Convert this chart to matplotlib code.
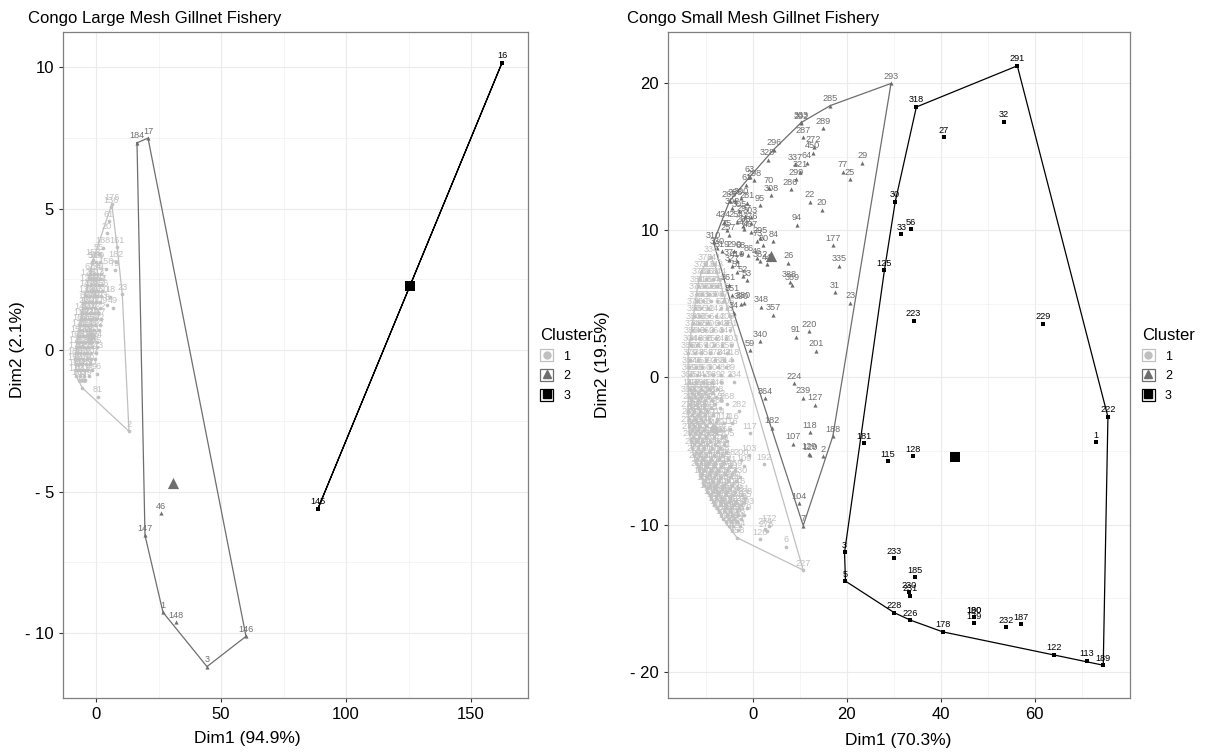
import matplotlib
matplotlib.use('Agg')
import matplotlib.pyplot as plt
from matplotlib.lines import Line2D
from matplotlib.patches import Rectangle
from matplotlib.legend_handler import HandlerTuple

plt.rcParams['font.family'] = ['Liberation Sans', 'DejaVu Sans']

# ---------------- LEFT PANEL: Congo Large Mesh Gillnet Fishery ----------------
L1_x = [6.3, 6.0, 5.0, 4.3, 8.5, 2.9, 1.0, -1.1, 8.0, 7.6, 3.9, 10.5, 5.6, 4.5, 6.8, 0.3, 0.7, 13.2, -5.5,
        -2.5, -1.0, 0.5, 2.0,
        -3.5, -2.0, -0.5, 1.0, 2.5,
        -4.0, -2.5, -1.0, 0.5, 2.0,
        -5.0, -3.5, -2.0, -0.5, 1.5,
        -6.0, -4.5, -3.0, -1.5, 0.0, 2.0,
        -7.0, -5.5, -4.0, -2.5, -1.0, 1.0,
        -7.5, -6.0, -4.5, -3.0, -1.5, 0.5,
        -8.0, -6.5, -5.0, -3.5, -2.0, 0.0,
        -8.2, -7.0, -5.5, -4.0, -2.5,
        -8.0, -6.5, -5.0, -3.0,
        -1.5, 0.0, 1.5,
        -3.0, -1.5, 0.0, 1.5,
        -3.8, -2.2, -0.7, 0.8, 2.2,
        -4.5, -3.0, -1.5, 0.0, 1.6,
        -5.5, -4.0, -2.5, -1.0, 0.7,
        -6.5, -5.0, -3.5, -2.0, -0.3, 1.5,
        -7.3, -5.8, -4.3, -2.8, -1.2,
        -7.8, -6.3, -4.8, -3.3, -1.7, 0.3,
        -8.3, -6.8, -5.3, -3.8, -2.2, -0.5,
        -7.8, -6.3, -4.8, -3.5, -1.8,
        -7.0, -5.8, -4.5]
L1_y = [5.16, 5.05, 4.55, 4.13, 3.63, 3.62, 3.4, 3.19, 3.13, 2.83, 2.88, 1.98, 1.89, 1.6, 1.5, -0.83, -1.65, -2.87, -1.33,
        2.7, 2.7, 2.7, 2.7,
        2.3, 2.3, 2.3, 2.3, 2.3,
        1.9, 1.9, 1.9, 1.9, 1.9,
        1.5, 1.5, 1.5, 1.5, 1.5,
        1.1, 1.1, 1.1, 1.1, 1.1, 1.1,
        0.7, 0.7, 0.7, 0.7, 0.7, 0.7,
        0.3, 0.3, 0.3, 0.3, 0.3, 0.3,
        -0.1, -0.1, -0.1, -0.1, -0.1, -0.1,
        -0.5, -0.5, -0.5, -0.5, -0.5,
        -0.9, -0.9, -0.9, -0.9,
        3.1, 3.1, 3.1,
        2.5, 2.5, 2.5, 2.5,
        2.1, 2.1, 2.1, 2.1, 2.1,
        1.7, 1.7, 1.7, 1.7, 1.7,
        1.3, 1.3, 1.3, 1.3, 1.3,
        0.9, 0.9, 0.9, 0.9, 0.9, 0.9,
        0.5, 0.5, 0.5, 0.5, 0.5,
        0.1, 0.1, 0.1, 0.1, 0.1, 0.1,
        -0.3, -0.3, -0.3, -0.3, -0.3, -0.3,
        -0.7, -0.7, -0.7, -0.7, -0.7,
        -1.05, -1.05, -1.05]
L1_lab = [176, 136, 61, 20, 161, 188, 55, 153, 182, 79, 158, 23, 18, 8, 49, 96, 81, 2, 21,
          62, 73, 95, 41,
          120, 35, 88, 104, 57,
          139, 12, 66, 97, 150,
          27, 130, 44, 71, 109,
          115, 52, 83, 140, 9, 67,
          178, 31, 124, 59, 11, 92,
          163, 48, 101, 26, 135, 74,
          170, 39, 112, 85, 5, 143,
          155, 64, 127, 19, 90,
          172, 43, 118, 33,
          58, 174, 29,
          126, 36, 107, 13,
          141, 50, 76, 117, 156,
          68, 133, 25, 99, 103,
          142, 80, 114, 47, 122,
          169, 34, 105, 53, 94, 22,
          157, 72, 138, 28, 111,
          171, 45, 129, 86, 60, 15,
          180, 38, 131, 77, 110, 7,
          166, 54, 123, 87, 30,
          173, 65, 119]

L2_x = [16.4, 20.8, 19.6, 26.0, 26.8, 32.0, 44.4, 60.0]
L2_y = [7.33, 7.5, -6.55, -5.77, -9.27, -9.63, -11.19, -10.12]
L2_lab = [184, 17, 147, 46, 1, 148, 3, 146]

L3_x = [162.4, 88.8]
L3_y = [10.16, -5.6]
L3_lab = [16, 145]

L_center_x = [-2.0, 30.8, 125.6]
L_center_y = [0.5, -4.7, 2.28]

L_xticks = [0, 50, 100, 150]
L_xticklabels = ['0', '50', '100', '150']
L_yticks = [-10, -5, 0, 5, 10]
L_yticklabels = ['- 10', '- 5', '0', '5', '10']

# ---------------- RIGHT PANEL: Congo Small Mesh Gillnet Fishery ----------------
R1_x = [-9.0,
        -10.2, -8.2,
        -11.0, -9.6, -7.8,
        -11.4, -10.0, -8.6, -7.2,
        -11.8, -10.4, -9.0, -7.6,
        -12.0, -10.8, -9.4, -8.0, -6.6,
        -12.0, -10.6, -9.0, -7.6, -6.2,
        -12.4, -11.0, -9.6, -6.9, -5.6,
        -12.6, -11.2, -9.4, -7.8, -5.0,
        -12.8, -11.4, -9.8, -7.2, -5.6,
        -13.0, -11.6, -10.2, -8.6, -6.5, -4.8,
        -13.2, -11.6, -9.8, -7.8, -5.8,
        -13.3, -12.0, -10.1, -8.4, -6.6, -4.6,
        -13.8, -12.4, -11.0, -9.2, -7.4, -5.6,
        -13.4, -11.8, -10.0, -8.0, -6.2, -4.4,
        -13.6, -12.2, -10.8, -9.2, -7.4, -5.8,
        -13.5, -12.0, -10.4, -8.6, -6.8, -4.8,
        -13.7, -12.2, -10.6, -8.8, -6.8, -4.1,
        -13.4, -12.6, -11.0, -9.4, -7.6,
        -13.7, -12.4, -11.0, -9.6, -7.8,
        -13.4, -12.0, -10.4, -8.0, -5.5,
        -13.8, -12.6, -11.2, -9.8, -3.0,
        -13.6, -12.4, -11.0, -9.4, -7.6,
        -6.2, -4.5,
        -13.7, -12.6, -11.4, -10.0,
        -13.5, -12.4, -11.2, -9.6, -7.8, -0.6,
        -13.3, -12.2, -10.8, -9.2, -7.4, -5.6,
        -13.0, -11.8, -10.4, -8.8, -7.0,
        -12.6, -11.4, -10.0, -8.4, -6.6, -0.9,
        -12.1, -11.0, -9.6, -8.0, -6.2, 2.3,
        -11.6, -10.4, -9.0, -7.4, -5.6, -3.8,
        -11.0, -9.8, -8.4, -6.8, -5.0, -2.7,
        -10.4, -9.2, -7.8, -6.2, -4.4,
        -9.7, -8.6, -7.2, -5.6, -3.8,
        -9.0, -7.8, -6.6, -5.0, -1.6,
        -8.2, -7.0, -5.8, -4.2, -2.6,
        -7.3, -6.2, -5.0, -3.4, -1.3,
        -6.3, -5.2, -4.0, -2.6,
        -5.2, -4.2, -2.8,
        -3.4,
        3.4, 2.5, 2.9, 1.4, 7.1, 10.7, -2.5, -2.0, -6.0, -4.8,
        -13.0, -11.7, -10.3, -8.7,
        -13.1, -11.7, -10.2, -8.8, -6.8,
        -13.2, -11.8, -10.5, -9.0, -7.0,
        -13.0, -11.7, -10.2, -8.5,
        -13.2, -12.0, -10.7, -9.2, -7.8,
        -13.0, -11.8, -10.4, -8.8, -7.0,
        -12.8, -11.6, -10.0, -8.4, -6.6,
        -12.6, -11.2, -9.8, -8.0, -6.2,
        -12.2, -11.0, -9.4, -7.6, -5.8,
        -11.9, -10.6, -9.0, -7.2, -5.4,
        -11.4, -10.0, -8.4, -6.8, -5.0,
        -10.8, -9.4, -7.8, -6.0, -4.4,
        -10.2, -8.8, -7.2, -5.4, -3.6,
        -9.6, -8.2, -6.6, -4.8, -3.2,
        -8.9, -7.4, -5.8, -4.2, -2.4,
        -8.4, -6.8, -5.2, -3.6, -2.0,
        -7.6, -6.0, -4.6, -3.0,
        -6.8, -5.6, -4.4, -3.2, -2.0,
        -5.8, -4.6, -3.4,
        -4.4, -3.2]
R1_y = [8.2,
        7.7, 7.7,
        7.2, 7.2, 7.2,
        6.7, 6.7, 6.7, 6.7,
        6.2, 6.2, 6.2, 6.2,
        5.7, 5.7, 5.7, 5.7, 5.7,
        5.2, 5.2, 5.2, 5.2, 5.2,
        4.7, 4.7, 4.7, 4.7, 4.7,
        4.2, 4.2, 4.2, 4.2, 4.2,
        3.7, 3.7, 3.7, 3.7, 3.7,
        3.2, 3.2, 3.2, 3.2, 3.2, 3.2,
        2.7, 2.7, 2.7, 2.7, 2.7,
        2.2, 2.2, 2.2, 2.2, 2.2, 2.2,
        1.7, 1.7, 1.7, 1.7, 1.7, 1.7,
        1.2, 1.2, 1.2, 1.2, 1.2, 1.2,
        0.7, 0.7, 0.7, 0.7, 0.7, 0.7,
        0.2, 0.2, 0.2, 0.2, 0.2, 0.2,
        -0.3, -0.3, -0.3, -0.3, -0.3, -0.3,
        -0.8, -0.8, -0.8, -0.8, -0.8,
        -1.3, -1.3, -1.3, -1.3, -1.3,
        -1.8, -1.8, -1.8, -1.8, -1.8,
        -2.3, -2.3, -2.3, -2.3, -2.3,
        -2.8, -2.8, -2.8, -2.8, -2.8,
        -3.1, -3.1,
        -3.3, -3.3, -3.3, -3.3,
        -3.8, -3.8, -3.8, -3.8, -3.8, -3.8,
        -4.3, -4.3, -4.3, -4.3, -4.3, -4.3,
        -4.8, -4.8, -4.8, -4.8, -4.8,
        -5.3, -5.3, -5.3, -5.3, -5.3, -5.3,
        -5.8, -5.8, -5.8, -5.8, -5.8, -5.9,
        -6.3, -6.3, -6.3, -6.3, -6.3, -6.3,
        -6.8, -6.8, -6.8, -6.8, -6.8, -6.8,
        -7.3, -7.3, -7.3, -7.3, -7.3,
        -7.8, -7.8, -7.8, -7.8, -7.8,
        -8.2, -8.2, -8.2, -8.2, -8.2,
        -8.7, -8.7, -8.7, -8.7, -8.7,
        -9.1, -9.1, -9.1, -9.1, -8.9,
        -9.6, -9.6, -9.6, -9.6,
        -10.1, -10.1, -10.1,
        -10.9,
        -10.1, -10.3, -10.45, -11.0, -11.5, -13.1, -5.6, -6.0, -4.0, -3.5,
        -1.05, -1.05, -1.05, -1.05,
        -1.55, -1.55, -1.55, -1.55, -1.55,
        -2.05, -2.05, -2.05, -2.05, -2.05,
        -2.55, -2.55, -2.55, -2.55,
        -3.05, -3.05, -3.05, -3.05, -3.05,
        -3.55, -3.55, -3.55, -3.55, -3.55,
        -4.05, -4.05, -4.05, -4.05, -4.05,
        -4.55, -4.55, -4.55, -4.55, -4.55,
        -5.05, -5.05, -5.05, -5.05, -5.05,
        -5.55, -5.55, -5.55, -5.55, -5.55,
        -6.05, -6.05, -6.05, -6.05, -6.05,
        -6.55, -6.55, -6.55, -6.55, -6.55,
        -7.05, -7.05, -7.05, -7.05, -7.05,
        -7.55, -7.55, -7.55, -7.55, -7.55,
        -8.0, -8.0, -8.0, -8.0, -8.0,
        -8.45, -8.45, -8.45, -8.45, -8.45,
        -8.9, -8.9, -8.9, -8.9,
        -9.35, -9.35, -9.35, -9.35, -9.35,
        -9.85, -9.85, -9.85,
        -10.4, -10.4]
R1_lab = [334,
          376, 341,
          372, 316, 343,
          378, 325, 301, 344,
          381, 313, 367, 347,
          377, 323, 309, 358, 315,
          373, 331, 363, 304, 57,
          374, 339, 3, 57, 206,
          383, 365, 11, 242, 21,
          384, 332, 366, 14, 209,
          371, 342, 355, 306, 248, 251,
          386, 349, 360, 264, 247,
          304, 346, 365, 252, 241, 203,
          385, 324, 359, 10, 261, 259,
          370, 338, 356, 278, 244, 218,
          387, 345, 352, 197, 236, 214,
          369, 326, 350, 90, 48, 89,
          368, 354, 143, 98, 92, 234,
          143, 312, 284, 151, 246,
          382, 311, 273, 266, 208,
          294, 280, 256, 213, 268,
          279, 262, 255, 250, 282,
          288, 271, 258, 237, 114,
          114, 116,
          277, 270, 260, 245,
          275, 269, 253, 243, 219, 117,
          267, 249, 240, 235, 211, 205,
          219, 207, 199, 196, 194,
          217, 216, 204, 191, 186, 103,
          215, 212, 202, 198, 195, 192,
          210, 200, 184, 176, 171, 169,
          183, 175, 168, 165, 162, 130,
          160, 157, 154, 149, 144,
          142, 141, 139, 137, 135,
          134, 133, 131, 124, 238,
          123, 121, 119, 112, 110,
          108, 106, 105, 101, 193,
          100, 99, 97, 96,
          93, 88, 87,
          158,
          172, 274, 276, 126, 6, 227, 200, 109, 166, 116,
          85, 83, 82, 81,
          79, 78, 76, 74, 72,
          71, 69, 67, 66, 65,
          62, 60, 58, 55,
          54, 50, 49, 48, 47,
          45, 43, 42, 41, 39,
          38, 36, 35, 28, 24,
          21, 19, 18, 17, 16,
          15, 14, 13, 12, 11,
          9, 8, 4, 140, 138,
          136, 132, 128, 126, 121,
          119, 117, 115, 113, 111,
          102, 98, 89, 86, 80,
          153, 150, 148, 147, 146,
          145, 139, 137, 134, 131,
          163, 161, 159, 156, 155,
          174, 173, 170, 167,
          189, 187, 185, 181, 179,
          199, 196, 194,
          206, 204]

R2_x = [29.4, 16.5, 10.3, 10.3, 14.9, 10.6, 12.9, 12.7, 4.4, 3.1, 9.0, 11.4, 23.3, 19.1, 20.6, 10.1, 9.2, 8.0,
        -0.7, 0.3, -1.4, 3.4, 3.9, 12.1, 14.6, 1.4, 9.4, 17.0, 7.5, 18.4, 4.3, 17.5, 20.7, 7.8, 8.3, 4.3, 1.7,
        1.6, -0.7, 11.9, 9.1, 13.5, 8.8, 10.7, 13.3, 2.6, 4.0, 12.1, 17.0, 8.6, 11.9, 12.1, 14.9, 9.8, 10.7,
        -5.0, -3.8, -2.5, -1.2, -4.5, -3.0, -1.8, -0.5, -3.5, -2.2, -0.5, -6.2, -5.6, -5.2, -2.0, -0.5,
        -8.4, -7.6, -6.5, 0.9, 2.2, 1.5, -4.1, -2.6, -1.0, 0.8, 2.9, 1.5, -5.2, -4.5, -3.4, -3.4, -2.2, -1.3,
        -5.2, -4.5, -2.0, -2.5, -4.1]
R2_y = [20.0, 18.5, 17.3, 17.35, 16.96, 16.35, 15.7, 15.3, 15.5, 14.8, 14.5, 14.6, 14.6, 14.0, 13.5, 14.0, 13.5, 12.8,
        13.65, 13.4, 13.1, 12.9, 12.4, 11.96, 11.4, 11.7, 10.4, 9.0, 7.8, 7.6, 9.26, 5.8, 5.1, 6.5, 6.3, 4.26, 4.8,
        2.48, 1.87, 3.13, 2.77, 1.82, -0.38, -1.37, -1.85, -1.4, -3.43, -3.72, -4.0, -4.5, -5.2, -5.25, -5.34, -8.56, -10.07,
        12.0, 12.1, 12.2, 11.9, 11.5, 11.3, 11.0, 10.9, 10.6, 10.3, 10.5, 10.6, 10.0, 9.7, 10.1, 9.9,
        9.2, 8.8, 8.6, 9.3, 9.0, 9.5, 8.6, 8.5, 8.3, 8.1, 7.7, 7.9, 8.0, 7.6, 7.9, 7.2, 6.9, 6.6,
        6.3, 5.6, 5.1, 5.0, 4.4]
R2_lab = [293, 285, 292, 333, 289, 287, 272, 450, 296, 328, 337, 64, 29, 77, 25, 321, 299, 286,
          63, 298, 61, 70, 308, 22, 20, 95, 94, 177, 26, 335, 84, 31, 23, 388, 389, 357, 348,
          340, 59, 220, 91, 201, 224, 239, 127, 364, 182, 118, 188, 107, 129, 120, 2, 104, 7,
          265, 283, 300, 281, 302, 305, 297, 303, 254, 263, 276, 424, 75, 257, 40, 467,
          310, 330, 319, 73, 80, 295, 290, 68, 86, 46, 44, 362, 37, 327, 410, 51, 52, 53,
          361, 351, 380, 390, 34]

R3_x = [56.3, 34.8, 53.5, 40.6, 30.3, 33.6, 31.6, 28.0, 34.2, 61.8, 75.6, 73.1, 23.6, 28.7, 34.0, 19.5,
        30.1, 19.7, 34.6, 33.3, 33.5, 30.1, 33.5, 40.4, 47.1, 47.1, 47.1, 53.9, 57.1, 64.2, 71.1, 74.6]
R3_y = [21.2, 18.4, 17.4, 16.35, 11.96, 10.07, 9.73, 7.3, 3.85, 3.65, -2.68, -4.39, -4.46, -5.68, -5.34, -11.9,
        -12.3, -13.85, -13.6, -14.6, -14.86, -16.0, -16.5, -17.3, -16.3, -16.3, -16.7, -17.0, -16.8, -18.85, -19.26, -19.57]
R3_lab = [291, 318, 32, 27, 30, 56, 33, 125, 223, 229, 222, 1, 181, 115, 128, 3,
          233, 5, 185, 230, 231, 228, 226, 178, 180, 190, 179, 232, 187, 122, 113, 189]

R_center_x = [-8.4, 3.9, 43.0]
R_center_y = [-3.5, 8.24, -5.43]

R_xticks = [0, 20, 40, 60]
R_xticklabels = ['0', '20', '40', '60']
R_yticks = [-20, -10, 0, 10, 20]
R_yticklabels = ['- 20', '- 10', '0', '10', '20']

cluster_names = ['1', '2', '3']
cluster_colors = ['#C0C0C0', '#6E6E6E', '#000000']
cluster_markers = ['o', '^', 's']
point_sizes = [7, 9, 12]
center_sizes = [40, 65, 50]


def convex_hull(xs, ys):
    pts = sorted(set(zip(xs, ys)))
    if len(pts) <= 2:
        return pts

    def cross(o, a, b):
        return (a[0] - o[0]) * (b[1] - o[1]) - (a[1] - o[1]) * (b[0] - o[0])
    lower, upper = [], []
    for p in pts:
        while len(lower) >= 2 and cross(lower[-2], lower[-1], p) <= 0:
            lower.pop()
        lower.append(p)
    for p in reversed(pts):
        while len(upper) >= 2 and cross(upper[-2], upper[-1], p) <= 0:
            upper.pop()
        upper.append(p)
    return lower[:-1] + upper[:-1]


def draw_panel(ax, clusters, centers, xlim, ylim, xticks, xticklabels, xminor,
               yticks, yticklabels, yminor):
    for k, (xs, ys, labs) in enumerate(clusters):
        c = cluster_colors[k]
        hull = convex_hull(xs, ys)
        hx = [p[0] for p in hull] + [hull[0][0]]
        hy = [p[1] for p in hull] + [hull[0][1]]
        ax.plot(hx, hy, color=c, lw=0.9, zorder=2)
        ax.scatter(xs, ys, marker=cluster_markers[k], s=point_sizes[k], color=c,
                   linewidths=0, zorder=3)
        for x, y, t in zip(xs, ys, labs):
            ax.annotate(str(t), (x, y), xytext=(0, 1.8), textcoords='offset points',
                        ha='center', va='bottom', fontsize=6.6, color=c, zorder=4)
        ax.scatter([centers[0][k]], [centers[1][k]], marker=cluster_markers[k],
                   s=center_sizes[k], color=c, linewidths=0, zorder=5)
    ax.set_xlim(*xlim)
    ax.set_ylim(*ylim)
    ax.set_xticks(xticks)
    ax.set_xticklabels(xticklabels)
    ax.set_yticks(yticks)
    ax.set_yticklabels(yticklabels)
    ax.set_xticks(xminor, minor=True)
    ax.set_yticks(yminor, minor=True)
    ax.grid(True, which='major', color='#EBEBEB', lw=0.8, zorder=0)
    ax.grid(True, which='minor', color='#F2F2F2', lw=0.5, zorder=0)
    ax.set_axisbelow(True)
    ax.tick_params(which='major', length=3, color='#333333', labelsize=12, labelcolor='black')
    ax.tick_params(which='minor', length=0)
    for s in ax.spines.values():
        s.set_color('#7F7F7F')
        s.set_linewidth(0.9)
    handles = []
    for k in range(3):
        box = Rectangle((0, 0), 1, 1, facecolor='white', edgecolor=cluster_colors[k], lw=0.9)
        mk = Line2D([], [], marker=cluster_markers[k], color=cluster_colors[k], ls='none',
                    markersize=[5, 6, 6][k])
        handles.append((box, mk))
    leg = ax.legend(handles, cluster_names, title='Cluster', loc='center left',
                    bbox_to_anchor=(1.015, 0.5), frameon=False, fontsize=9,
                    title_fontsize=12, handlelength=1.05, handleheight=1.05,
                    handletextpad=0.8, labelspacing=0.55, borderaxespad=0.0,
                    handler_map={tuple: HandlerTuple(ndivide=1, pad=0.0)})
    leg._legend_box.align = 'left'


fig = plt.figure(figsize=(12.11, 7.52), dpi=100)
W, H = 1211.0, 752.0
axL = fig.add_axes([63 / W, 1 - 698 / H, (528 - 63) / W, (698 - 32) / H])
axR = fig.add_axes([668 / W, 1 - 698 / H, (1130 - 668) / W, (698 - 32) / H])

draw_panel(axL, [(L1_x, L1_y, L1_lab), (L2_x, L2_y, L2_lab), (L3_x, L3_y, L3_lab)],
           (L_center_x, L_center_y), (-13.2, 172.8), (-12.3, 11.25),
           L_xticks, L_xticklabels, [25, 75, 125],
           L_yticks, L_yticklabels, [-7.5, -2.5, 2.5, 7.5])
draw_panel(axR, [(R1_x, R1_y, R1_lab), (R2_x, R2_y, R2_lab), (R3_x, R3_y, R3_lab)],
           (R_center_x, R_center_y), (-18.1, 80.3), (-21.8, 23.5),
           R_xticks, R_xticklabels, [-10, 10, 30, 50, 70],
           R_yticks, R_yticklabels, [-15, -5, 5, 15])

fig.text(28 / W, 1 - 18 / H, 'Congo Large Mesh Gillnet Fishery', fontsize=12, va='center', ha='left')
fig.text(627 / W, 1 - 18 / H, 'Congo Small Mesh Gillnet Fishery', fontsize=12, va='center', ha='left')
fig.text(247 / W, 1 - 738 / H, 'Dim1 (94.9%)', fontsize=12.5, va='center', ha='center')
fig.text(898 / W, 1 - 740 / H, 'Dim1 (70.3%)', fontsize=12.5, va='center', ha='center')
fig.text(18 / W, 1 - 350 / H, 'Dim2 (2.1%)', fontsize=12.5, va='center', ha='center', rotation=90)
fig.text(603 / W, 1 - 365 / H, 'Dim2 (19.5%)', fontsize=12.5, va='center', ha='center', rotation=90)

fig.savefig('out.png', dpi=100)
